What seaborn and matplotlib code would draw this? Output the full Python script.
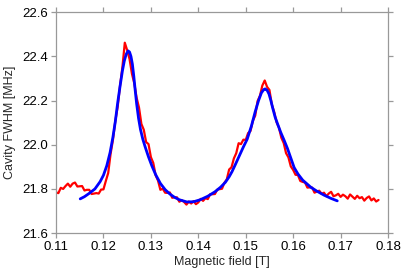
import numpy as np
import pandas as pd
import matplotlib
matplotlib.use("Agg")
import matplotlib.pyplot as plt
import seaborn as sns

# Measured data (red), x in T from 0.110 to 0.178, step 0.0005
field_measured = [round(0.110 + 0.0005 * i, 4) for i in range(137)]
fwhm_measured = [
    21.784, 21.781, 21.805, 21.800, 21.813, 21.824, 21.810, 21.824, 21.829, 21.811,
    21.812, 21.813, 21.793, 21.796, 21.796, 21.777, 21.779, 21.781, 21.779, 21.797,
    21.798, 21.836, 21.872, 21.958, 22.022, 22.108, 22.172, 22.268, 22.352, 22.462,
    22.428, 22.388, 22.322, 22.278, 22.212, 22.168, 22.094, 22.068, 22.012, 22.003,
    21.944, 21.918, 21.862, 21.838, 21.796, 21.801, 21.783, 21.782, 21.784, 21.760,
    21.762, 21.762, 21.742, 21.749, 21.741, 21.729, 21.743, 21.734, 21.745, 21.731,
    21.739, 21.755, 21.746, 21.758, 21.754, 21.776, 21.776, 21.777, 21.797, 21.799,
    21.801, 21.828, 21.843, 21.888, 21.898, 21.938, 21.962, 22.007, 22.003, 22.023,
    22.022, 22.053, 22.062, 22.108, 22.132, 22.198, 22.222, 22.268, 22.291, 22.262,
    22.248, 22.182, 22.148, 22.102, 22.078, 22.032, 22.008, 21.962, 21.943, 21.902,
    21.886, 21.864, 21.863, 21.836, 21.832, 21.829, 21.806, 21.807, 21.806, 21.783,
    21.788, 21.792, 21.778, 21.783, 21.767, 21.779, 21.787, 21.767, 21.771, 21.778,
    21.764, 21.774, 21.767, 21.756, 21.775, 21.765, 21.755, 21.769, 21.758, 21.763,
    21.747, 21.759, 21.766, 21.748, 21.757, 21.743, 21.750,
]

# Fit (blue)
field_fit = [0.1151, 0.1160, 0.1170, 0.1182, 0.1193, 0.1200, 0.1207, 0.1214, 0.1220,
             0.1225, 0.1230, 0.1235, 0.1240, 0.1244, 0.1248, 0.1252, 0.1255, 0.1258,
             0.1261, 0.1264, 0.1267, 0.1270, 0.1274, 0.1278, 0.1283, 0.1288, 0.1295,
             0.1302, 0.1310, 0.1320, 0.1330, 0.1340, 0.1350, 0.1360, 0.1376, 0.1390,
             0.1404, 0.1420, 0.1435, 0.1447, 0.1457, 0.1465, 0.1471, 0.1478, 0.1485,
             0.1495, 0.1503, 0.1512, 0.1520, 0.1527, 0.1533, 0.1538, 0.1541, 0.1545,
             0.1549, 0.1553, 0.1557, 0.1562, 0.1567, 0.1574, 0.1581, 0.1588, 0.1595,
             0.1602, 0.1610, 0.1620, 0.1637, 0.1650, 0.1665, 0.1680, 0.1693]
fwhm_fit = [21.755, 21.765, 21.780, 21.800, 21.833, 21.862, 21.905, 21.965, 22.035,
            22.105, 22.190, 22.265, 22.335, 22.380, 22.410, 22.425, 22.420, 22.400,
            22.365, 22.310, 22.245, 22.185, 22.120, 22.070, 22.025, 21.990, 21.945,
            21.905, 21.865, 21.825, 21.797, 21.777, 21.762, 21.751, 21.741, 21.742,
            21.751, 21.767, 21.787, 21.808, 21.830, 21.855, 21.878, 21.910, 21.943,
            21.990, 22.025, 22.085, 22.150, 22.200, 22.235, 22.250, 22.253, 22.247,
            22.230, 22.200, 22.165, 22.125, 22.095, 22.055, 22.020, 21.983, 21.940,
            21.897, 21.868, 21.840, 21.808, 21.790, 21.772, 21.757, 21.746]

x_ticks = [0.11, 0.12, 0.13, 0.14, 0.15, 0.16, 0.17, 0.18]
y_ticks = [21.6, 21.8, 22.0, 22.2, 22.4, 22.6]

sns.set_theme(style="white")
plt.rcParams['font.family'] = ['Liberation Sans', 'DejaVu Sans']

fig = plt.figure(figsize=(4.15, 2.72), dpi=100)
ax = fig.add_axes([0.135, 0.143, 0.8, 0.812])

df_m = pd.DataFrame({"x": field_measured, "y": fwhm_measured})
df_f = pd.DataFrame({"x": field_fit, "y": fwhm_fit})
sns.lineplot(data=df_m, x="x", y="y", ax=ax, color="#ff0000", lw=1.6, sort=False,
             solid_joinstyle="round")
sns.lineplot(data=df_f, x="x", y="y", ax=ax, color="#0000ff", lw=2.0, sort=False,
             solid_joinstyle="round", solid_capstyle="round")

ax.set_xlim(0.11, 0.18)
ax.set_ylim(21.6, 22.6)
ax.set_xticks(x_ticks)
ax.set_xticklabels([f"{v:.2f}" for v in x_ticks])
ax.set_yticks(y_ticks)
ax.set_yticklabels([f"{v:.1f}" for v in y_ticks])
ax.set_xlabel("Magnetic field [T]", fontsize=9, labelpad=2)
ax.set_ylabel("Cavity FWHM [MHz]", fontsize=9, labelpad=5)

for s in ax.spines.values():
    s.set_visible(True)
    s.set_color("#999999")
    s.set_linewidth(0.9)
ax.tick_params(axis="both", which="both", direction="out", length=3.5, width=0.9,
               color="#999999", labelsize=9.5, labelcolor="black", pad=2,
               top=True, right=True, bottom=True, left=True,
               labeltop=False, labelright=False)

fig.savefig("out.png", dpi=100)
